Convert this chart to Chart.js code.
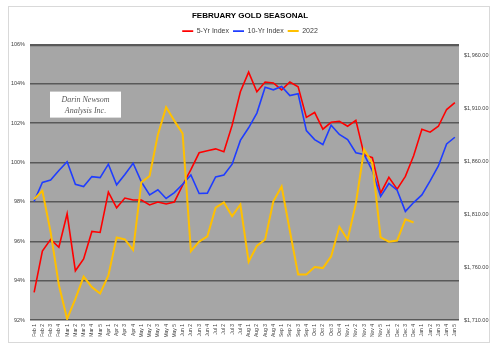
<!DOCTYPE html>
<html>
<head>
<meta charset="utf-8">
<title>February Gold Seasonal</title>
<script src="https://cdn.jsdelivr.net/npm/chart.js@4.4.1/dist/chart.umd.min.js"></script>
<style>
  html, body { margin: 0; padding: 0; background: #fff; }
  #chart { display: block; }
</style>
</head>
<body>
<canvas id="chart" width="500" height="350"></canvas>
<script>
// weekly categories, Feb 2022 - Jan 2023
const weeks = [
  'Feb 1', 'Feb 2', 'Feb 3', 'Feb 4',
  'Mar 1', 'Mar 2', 'Mar 3', 'Mar 4', 'Mar 5',
  'Apr 1', 'Apr 2', 'Apr 3', 'Apr 4',
  'May 1', 'May 2', 'May 3', 'May 4', 'May 5',
  'Jun 1', 'Jun 2', 'Jun 3', 'Jun 4',
  'Jul 1', 'Jul 2', 'Jul 3', 'Jul 4',
  'Aug 1', 'Aug 2', 'Aug 3', 'Aug 4',
  'Sep 1', 'Sep 2', 'Sep 3', 'Sep 4',
  'Oct 1', 'Oct 2', 'Oct 3', 'Oct 4',
  'Nov 1', 'Nov 2', 'Nov 3', 'Nov 4', 'Nov 5',
  'Dec 1', 'Dec 2', 'Dec 3', 'Dec 4',
  'Jan 1', 'Jan 2', 'Jan 3', 'Jan 4', 'Jan 5'
];

// seasonal indexes, percent (left axis)
const fiveYrIndex = [
  93.4, 95.5, 96.1, 95.7, 97.4, 94.5, 95.1, 96.5, 96.45, 98.5,
  97.7, 98.2, 98.1, 98.1, 97.85, 98.0, 97.9, 98.0, 98.85, 99.65,
  100.5, 100.6, 100.7, 100.55, 101.9, 103.6, 104.6, 103.6, 104.1, 104.05,
  103.7, 104.1, 103.85, 102.3, 102.55, 101.7, 102.05, 102.1, 101.85, 102.15,
  100.4, 100.25, 98.45, 99.25, 98.65, 99.3, 100.35, 101.7, 101.55, 101.85,
  102.7, 103.05
];
const tenYrIndex = [
  98.03, 98.99, 99.12, 99.6, 100.05, 98.9, 98.78, 99.29, 99.24, 99.92,
  98.87, 99.4, 99.97, 99.02, 98.36, 98.62, 98.18, 98.48, 98.9, 99.37,
  98.43, 98.45, 99.27, 99.37, 99.92, 101.13, 101.77, 102.52, 103.83, 103.7,
  103.87, 103.41, 103.5, 101.63, 101.17, 100.92, 101.9, 101.43, 101.17, 100.5,
  100.42, 99.58, 98.28, 98.94, 98.6, 97.52, 97.97, 98.36, 99.07, 99.83,
  100.95, 101.29
];

// 2022 gold price, $ (right axis)
const gold2022 = [
  1824, 1832, 1793, 1743, 1711, 1730, 1751, 1741, 1735, 1752,
  1788, 1786, 1776, 1840, 1846, 1885, 1911, 1898, 1886, 1775,
  1784, 1789, 1816, 1821, 1808, 1819, 1765, 1780, 1786, 1822,
  1836, 1794, 1753, 1753, 1760, 1759, 1770, 1798, 1786, 1820,
  1871, 1858, 1788, 1784, 1785, 1805, 1802, null, null, null,
  null, null
];

const pctTicks = [92, 94, 96, 98, 100, 102, 104, 106];
const priceTicks = [1710, 1760, 1810, 1860, 1910, 1960];

const FONT = '"Liberation Sans Narrow", "Liberation Sans", sans-serif';

// gray plot area, outer frame and the watermark box
const backdrop = {
  id: 'backdrop',
  beforeDraw(chart) {
    const { ctx, chartArea: a } = chart;
    ctx.save();
    ctx.fillStyle = '#ffffff';
    ctx.fillRect(0, 0, chart.width, chart.height);
    ctx.strokeStyle = '#d9d9d9';
    ctx.lineWidth = 1;
    ctx.strokeRect(8.5, 6.5, 481, 336);
    ctx.fillStyle = '#a6a6a6';
    ctx.fillRect(a.left, a.top, a.right - a.left, a.bottom - a.top);
    ctx.restore();
  },
  beforeDatasetsDraw(chart) {
    const { ctx, chartArea: a } = chart;
    const x = a.left + 20, y = a.top + 47;
    ctx.save();
    ctx.fillStyle = '#ffffff';
    ctx.fillRect(x, y, 71, 26);
    ctx.fillStyle = '#595959';
    ctx.font = 'italic 8px "Liberation Serif", "DejaVu Serif", serif';
    ctx.textAlign = 'center';
    ctx.textBaseline = 'middle';
    ctx.fillText('Darin Newsom', x + 35.5, y + 8);
    ctx.fillText('Analysis Inc.', x + 35.5, y + 19);
    ctx.restore();
  }
};

new Chart(document.getElementById('chart').getContext('2d'), {
  type: 'line',
  data: {
    labels: weeks,
    datasets: [{
      label: '5-Yr Index',
      data: fiveYrIndex,
      yAxisID: 'y',
      borderColor: '#ff0000',
      backgroundColor: '#ff0000',
      borderWidth: 1.6,
      order: 3
    }, {
      label: '10-Yr Index',
      data: tenYrIndex,
      yAxisID: 'y',
      borderColor: '#1f3dff',
      backgroundColor: '#1f3dff',
      borderWidth: 1.6,
      order: 2
    }, {
      label: '2022',
      data: gold2022,
      yAxisID: 'y1',
      borderColor: '#ffc000',
      backgroundColor: '#ffc000',
      borderWidth: 2,
      order: 1
    }]
  },
  options: {
    responsive: false,
    animation: false,
    layout: { padding: 0 },
    elements: {
      point: { radius: 0 },
      line: { tension: 0 }
    },
    plugins: {
      title: {
        display: true,
        text: 'FEBRUARY GOLD SEASONAL',
        color: '#000000',
        font: { family: FONT, size: 8, weight: 'bold' },
        padding: { top: 11, bottom: 3 }
      },
      legend: {
        position: 'top',
        labels: {
          color: '#404040',
          font: { family: FONT, size: 7 },
          usePointStyle: true,
          pointStyle: 'line',
          pointStyleWidth: 11,
          boxHeight: 7,
          padding: 4,
          sort: (a, b) => a.datasetIndex - b.datasetIndex
        }
      },
      tooltip: { enabled: false }
    },
    scales: {
      x: {
        offset: true,
        grid: { display: false, drawTicks: false },
        border: { display: false },
        ticks: {
          autoSkip: false,
          minRotation: 90,
          maxRotation: 90,
          padding: 4,
          color: '#404040',
          font: { family: FONT, size: 5 }
        },
        afterFit(s) { s.height = 30; }
      },
      y: {
        position: 'left',
        min: 92,
        max: 106,
        afterBuildTicks(s) { s.ticks = pctTicks.map(v => ({ value: v })); },
        grid: {
          color: '#595959',
          lineWidth: c => (c.tick && c.tick.value === 106 ? 2.2 : 1.6),
          drawTicks: false
        },
        border: { display: false },
        ticks: {
          padding: 5,
          color: '#404040',
          font: { family: FONT, size: 5.5 },
          callback: v => v + '%'
        },
        afterFit(s) { s.width = 30; }
      },
      y1: {
        position: 'right',
        min: 1710,
        max: 1970,
        afterBuildTicks(s) { s.ticks = priceTicks.map(v => ({ value: v })); },
        grid: { display: false, drawTicks: false },
        border: { display: false },
        ticks: {
          padding: 5,
          color: '#404040',
          font: { family: FONT, size: 5.5 },
          callback: v => '$' + v.toLocaleString('en-US', { minimumFractionDigits: 2, maximumFractionDigits: 2 })
        },
        afterFit(s) { s.width = 41; }
      }
    }
  },
  plugins: [backdrop]
});
</script>
</body>
</html>
